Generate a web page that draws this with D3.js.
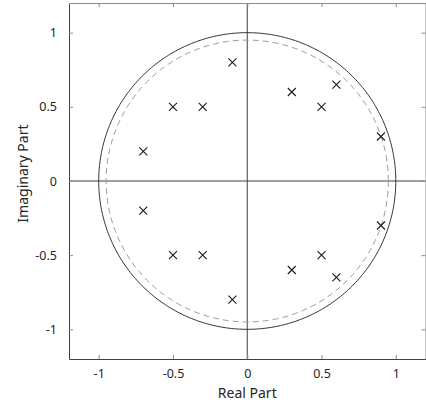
<!DOCTYPE html>
<html lang="en">
<head>
  <meta charset="UTF-8">
  <title>Pole plot</title>
  <script src="https://d3js.org/d3.v7.min.js"></script>
  <style>
    body { margin: 0; background: #fff; }
    svg text { font-family: "Noto Sans", "Open Sans", sans-serif; fill: #262626; }
  </style>
</head>
<body>
  <div id="container"></div>
  <script>
    // pole locations (real, imaginary)
    const realParts = [-0.1, -0.3, -0.5, -0.7, 0.3, 0.5, 0.6, 0.9,
                       -0.1, -0.3, -0.5, -0.7, 0.3, 0.5, 0.6, 0.9]
    const imagParts = [0.8, 0.5, 0.5, 0.2, 0.6, 0.5, 0.65, 0.3,
                       -0.8, -0.5, -0.5, -0.2, -0.6, -0.5, -0.65, -0.3]
    const circleRadii = [1, 0.95]
    const tickValues = [-1, -0.5, 0, 0.5, 1]
    const tickLabels = ['-1', '-0.5', '0', '0.5', '1']

    const width = 426, height = 409
    const margin = {left: 69, top: 3, right: 0.5, bottom: 50}

    const svg = d3.select('#container').append('svg')
      .attr('width', width)
      .attr('height', height)

    const x = d3.scaleLinear().domain([-1.2, 1.2]).range([margin.left, width - margin.right])
    const y = d3.scaleLinear().domain([-1.2, 1.2]).range([height - margin.bottom, margin.top])

    const boxColor = '#8c8c8c'

    // zero lines
    svg.append('line')
      .attr('x1', x(-1.2)).attr('x2', x(1.2))
      .attr('y1', y(0)).attr('y2', y(0))
      .attr('stroke', '#404040').attr('stroke-width', 1)
    svg.append('line')
      .attr('x1', x(0)).attr('x2', x(0))
      .attr('y1', y(-1.2)).attr('y2', y(1.2))
      .attr('stroke', '#404040').attr('stroke-width', 1)

    // circles
    const line = d3.line().x(d => x(d[0])).y(d => y(d[1]))
    circleRadii.forEach(function (r, i) {
      const pts = d3.range(0, 361).map(a => [r * Math.cos(a * Math.PI / 180), r * Math.sin(a * Math.PI / 180)])
      svg.append('path')
        .attr('d', line(pts))
        .attr('fill', 'none')
        .attr('stroke', i === 0 ? '#333' : '#9a9a9a')
        .attr('stroke-width', 1)
        .attr('stroke-dasharray', i === 0 ? null : '6,4')
    })

    // pole markers
    const s = 4
    const poles = realParts.map((re, i) => ({re: re, im: imagParts[i]}))
    const marks = svg.append('g').selectAll('g')
      .data(poles)
      .enter()
      .append('g')
        .attr('transform', d => 'translate(' + x(d.re) + ',' + y(d.im) + ')')
    marks.append('path')
      .attr('d', 'M' + -s + ',' + -s + 'L' + s + ',' + s + 'M' + -s + ',' + s + 'L' + s + ',' + -s)
      .attr('stroke', '#1a1a1a')
      .attr('stroke-width', 1.1)

    // axes box with inside ticks
    const axisBottom = d3.axisBottom(x).tickValues(tickValues).tickFormat((d, i) => tickLabels[i]).tickSizeInner(-4).tickSizeOuter(0).tickPadding(10)
    const axisLeft = d3.axisLeft(y).tickValues(tickValues).tickFormat((d, i) => tickLabels[i]).tickSizeInner(-4).tickSizeOuter(0).tickPadding(12)
    const axisTop = d3.axisTop(x).tickValues(tickValues).tickFormat('').tickSizeInner(-4).tickSizeOuter(0)
    const axisRight = d3.axisRight(y).tickValues(tickValues).tickFormat('').tickSizeInner(-4).tickSizeOuter(0)

    const gb = svg.append('g').attr('transform', 'translate(0,' + y(-1.2) + ')').call(axisBottom)
    const gl = svg.append('g').attr('transform', 'translate(' + x(-1.2) + ',0)').call(axisLeft)
    const gt = svg.append('g').attr('transform', 'translate(0,' + y(1.2) + ')').call(axisTop)
    const gr = svg.append('g').attr('transform', 'translate(' + x(1.2) + ',0)').call(axisRight)
    ;[gb, gl, gt, gr].forEach(function (g) {
      g.selectAll('path, line').attr('stroke', boxColor)
      g.selectAll('text').style('font-size', '12.5px').attr('fill', '#262626')
    })
    gb.select('.domain').attr('stroke', '#404040')
    gl.select('.domain').attr('stroke', '#404040')

    // axis titles
    svg.append('text')
      .attr('x', x(0))
      .attr('y', 398)
      .attr('text-anchor', 'middle')
      .style('font-size', '14px')
      .text('Real Part')
    svg.append('text')
      .attr('transform', 'translate(28,' + y(0.05) + ') rotate(-90)')
      .attr('text-anchor', 'middle')
      .style('font-size', '14px')
      .text('Imaginary Part')
  </script>
</body>
</html>
